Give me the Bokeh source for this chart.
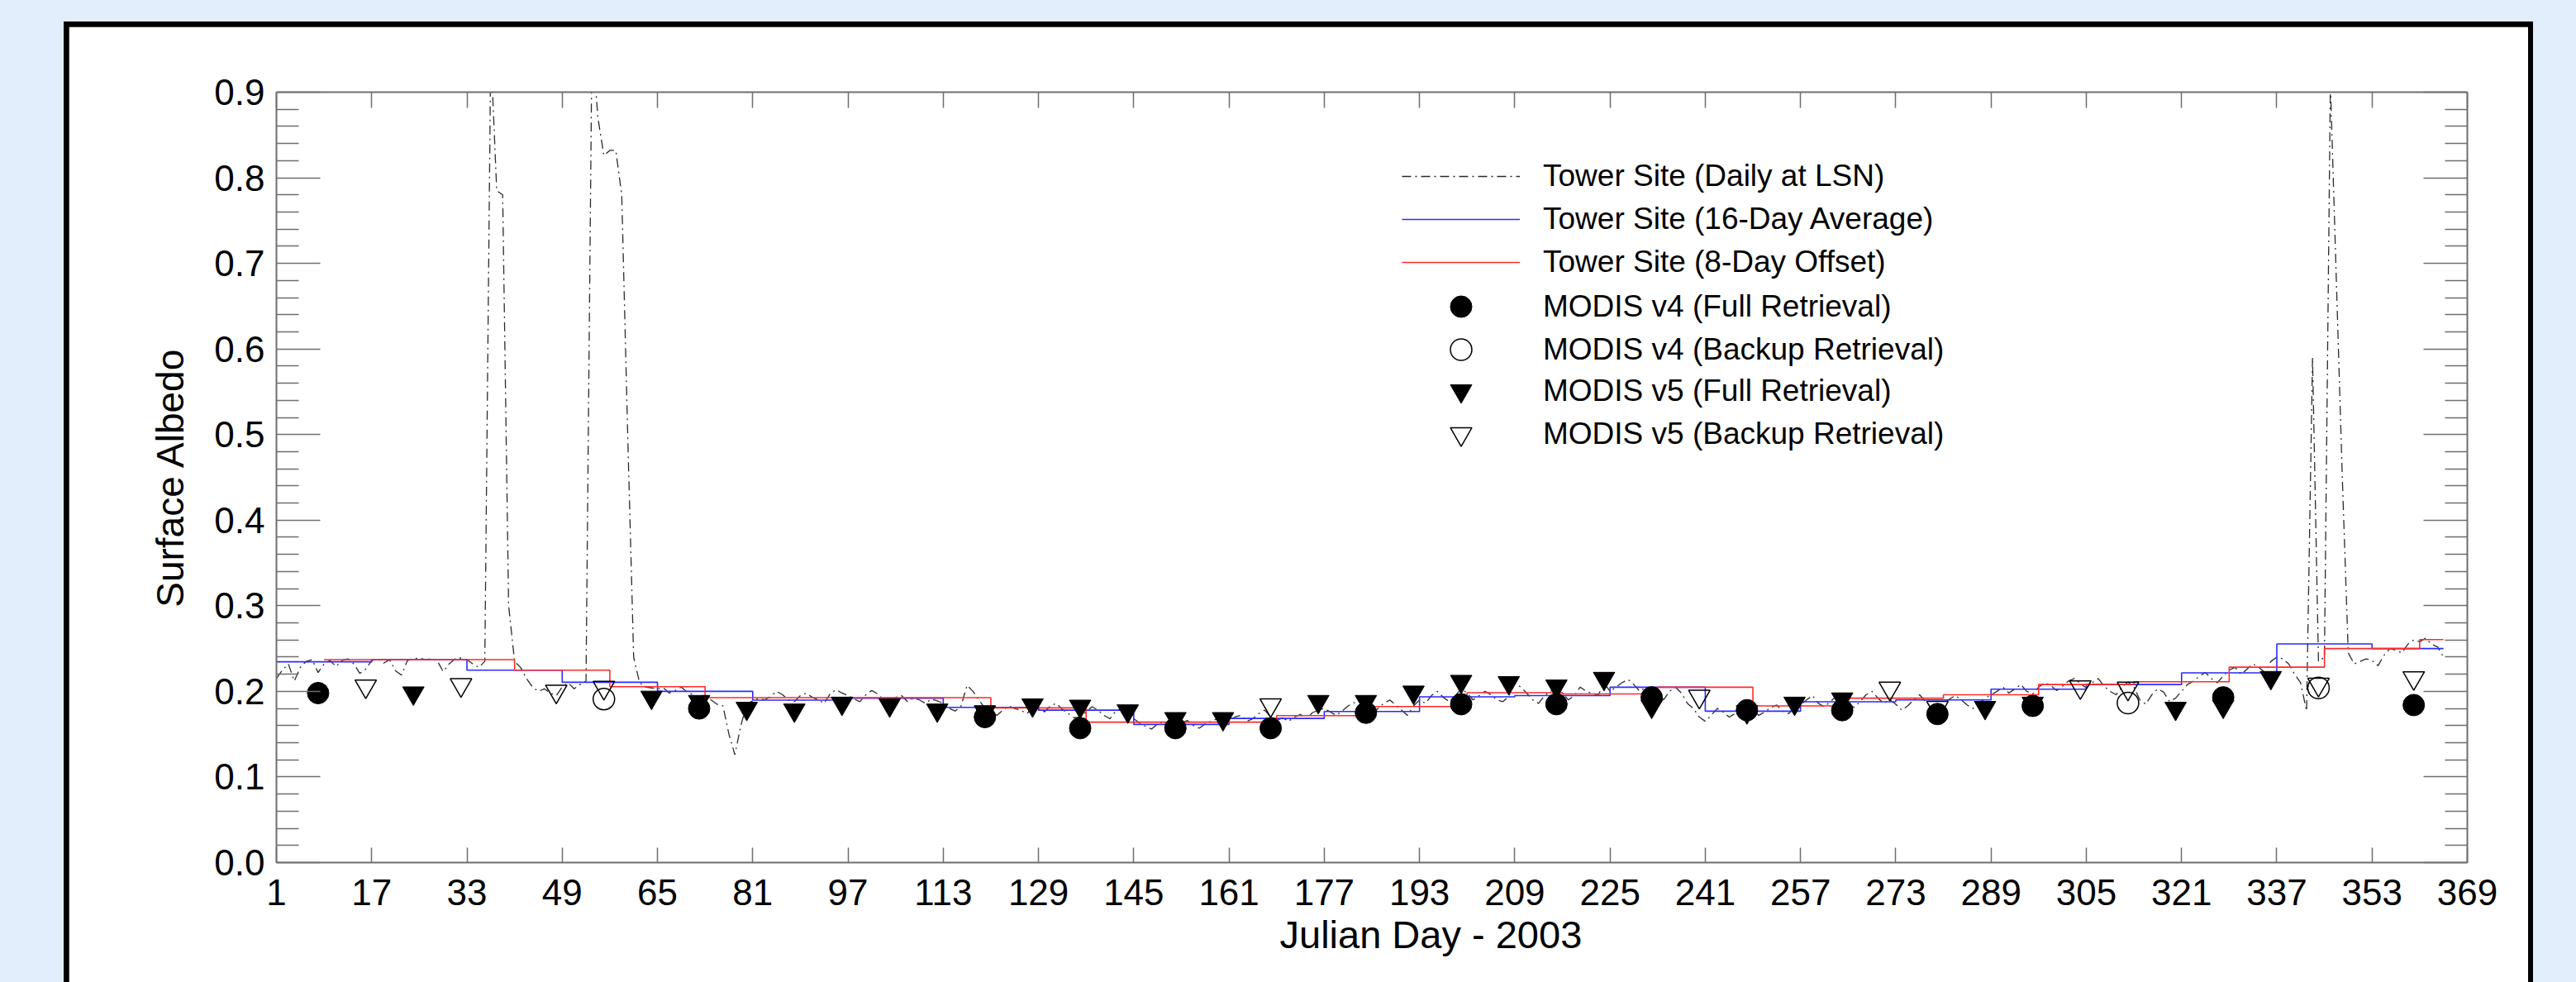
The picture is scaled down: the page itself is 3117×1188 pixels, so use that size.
from bokeh.plotting import figure
from bokeh.layouts import column, row
from bokeh.models import (Range1d, FixedTicker, PrintfTickFormatter, LinearAxis, Legend, LegendItem,
                          CustomJSTickFormatter, Spacer, Title)
from bokeh.embed import file_html
from bokeh.resources import INLINE

# ---------------- data ----------------
DAY_TICKS = [1, 17, 33, 49, 65, 81, 97, 113, 129, 145, 161, 177, 193, 209, 225, 241,
             257, 273, 289, 305, 321, 337, 353, 369]
Y_TICKS = [0.0, 0.1, 0.2, 0.3, 0.4, 0.5, 0.6, 0.7, 0.8, 0.9]

days = list(range(1, 366))
daily_albedo = [
    0.215, 0.225, 0.232, 0.212, 0.228, 0.235, 0.237, 0.222, 0.232, 0.236, 0.229, 0.236, 0.238, 0.232, 0.221, 0.226,
    0.236, 0.238, 0.233, 0.237, 0.224, 0.219, 0.236, 0.238, 0.239, 0.237, 0.238, 0.236, 0.223, 0.232, 0.238, 0.239,
    0.237, 0.232, 0.228, 0.235, 0.95, 0.785, 0.78, 0.30, 0.235, 0.228, 0.215, 0.205, 0.200, 0.203, 0.198, 0.195,
    0.205, 0.210, 0.203, 0.208, 0.212, 0.96, 0.87, 0.826, 0.832, 0.832, 0.78, 0.50, 0.24, 0.21, 0.205, 0.204,
    0.203, 0.204, 0.198, 0.201, 0.205, 0.199, 0.196, 0.192, 0.197, 0.190, 0.185, 0.183, 0.150, 0.126, 0.160, 0.185,
    0.189, 0.192, 0.190, 0.194, 0.200, 0.196, 0.190, 0.188, 0.195, 0.198, 0.193, 0.190, 0.186, 0.197, 0.202, 0.198,
    0.195, 0.191, 0.188, 0.196, 0.201, 0.197, 0.190, 0.187, 0.193, 0.195, 0.188, 0.192, 0.190, 0.186, 0.191, 0.189,
    0.186, 0.180, 0.177, 0.183, 0.207, 0.200, 0.190, 0.180, 0.176, 0.172, 0.178, 0.183, 0.180, 0.178, 0.174, 0.180,
    0.181, 0.176, 0.183, 0.186, 0.179, 0.174, 0.169, 0.170, 0.176, 0.182, 0.178, 0.172, 0.168, 0.177, 0.180, 0.173,
    0.168, 0.163, 0.159, 0.156, 0.162, 0.165, 0.160, 0.158, 0.163, 0.166, 0.160, 0.157, 0.162, 0.165, 0.168, 0.164,
    0.166, 0.170, 0.172, 0.165, 0.168, 0.174, 0.178, 0.170, 0.166, 0.169, 0.165, 0.170, 0.173, 0.168, 0.175, 0.178,
    0.180, 0.176, 0.172, 0.177, 0.183, 0.187, 0.180, 0.175, 0.171, 0.180, 0.186, 0.190, 0.184, 0.178, 0.172, 0.183,
    0.190, 0.186, 0.195, 0.200, 0.193, 0.188, 0.195, 0.203, 0.198, 0.190, 0.195, 0.200, 0.196, 0.190, 0.188, 0.194,
    0.210, 0.205, 0.198, 0.190, 0.186, 0.195, 0.200, 0.204, 0.198, 0.190, 0.195, 0.205, 0.200, 0.198, 0.195, 0.210,
    0.200, 0.205, 0.210, 0.214, 0.208, 0.200, 0.205, 0.203, 0.198, 0.190, 0.200, 0.205, 0.198, 0.186, 0.180, 0.170,
    0.165, 0.172, 0.180, 0.176, 0.170, 0.174, 0.180, 0.185, 0.178, 0.172, 0.176, 0.181, 0.184, 0.177, 0.174, 0.180,
    0.184, 0.190, 0.195, 0.186, 0.182, 0.188, 0.194, 0.190, 0.186, 0.181, 0.188, 0.196, 0.200, 0.192, 0.186, 0.190,
    0.185, 0.178, 0.183, 0.190, 0.196, 0.188, 0.182, 0.177, 0.185, 0.191, 0.195, 0.190, 0.184, 0.180, 0.186, 0.192,
    0.196, 0.200, 0.205, 0.198, 0.203, 0.208, 0.200, 0.197, 0.205, 0.210, 0.207, 0.201, 0.206, 0.212, 0.215, 0.209,
    0.204, 0.210, 0.215, 0.206, 0.200, 0.196, 0.205, 0.211, 0.205, 0.190, 0.185, 0.196, 0.203, 0.199, 0.188, 0.192,
    0.200, 0.208, 0.212, 0.218, 0.222, 0.215, 0.210, 0.218, 0.225, 0.228, 0.220, 0.226, 0.232, 0.228, 0.222, 0.235,
    0.240, 0.238, 0.232, 0.220, 0.210, 0.177, 0.59, 0.235, 0.240, 0.91, 0.68, 0.45, 0.245, 0.232, 0.235, 0.238,
    0.236, 0.230, 0.242, 0.250, 0.248, 0.245, 0.255, 0.260, 0.258, 0.262, 0.255, 0.252, 0.240,
]

avg16_day = [1, 17, 33, 49, 65, 81, 97, 113, 129, 145, 161, 177, 193, 209, 225, 241,
             257, 273, 289, 305, 321, 337, 353, 365]
avg16_val = [0.2345, 0.237, 0.2248, 0.2106, 0.200, 0.1897, 0.192, 0.1813, 0.178, 0.1614, 0.1684, 0.1765,
             0.1936, 0.195, 0.2048, 0.1768, 0.1878, 0.190, 0.2026, 0.208, 0.2216, 0.2554, 0.250, 0.250]

off8_day = [9, 25, 41, 57, 73, 89, 105, 121, 137, 153, 169, 185, 201, 217, 233, 249,
            265, 281, 297, 313, 329, 345, 361, 365]
off8_val = [0.237, 0.237, 0.2248, 0.2055, 0.1926, 0.1926, 0.1926, 0.1807, 0.164, 0.164, 0.1717, 0.1823,
            0.1984, 0.197, 0.2048, 0.183, 0.192, 0.1961, 0.208, 0.2113, 0.2283, 0.250, 0.2605, 0.2605]

v4_full_day = [8, 72, 120, 136, 152, 168, 184, 200, 216, 232, 248, 264, 280, 296, 328, 360]
v4_full_val = [0.198, 0.180, 0.170, 0.157, 0.157, 0.157, 0.175, 0.185, 0.185, 0.193, 0.178, 0.178,
               0.1735, 0.183, 0.193, 0.184]

v4_backup_day = [56, 312, 344]
v4_backup_val = [0.191, 0.1864, 0.204]

v5_full_day = [24, 64, 72, 80, 88, 96, 104, 112, 120, 128, 136, 144, 152, 160, 176, 184, 192, 200,
               208, 216, 224, 232, 248, 256, 264, 288, 296, 320, 328, 336]
v5_full_val = [0.198, 0.193, 0.188, 0.180, 0.178, 0.186, 0.184, 0.178, 0.176, 0.184, 0.1825, 0.177,
               0.168, 0.168, 0.188, 0.188, 0.199, 0.2115, 0.210, 0.206, 0.215, 0.1825, 0.176, 0.186,
               0.191, 0.181, 0.186, 0.180, 0.1825, 0.216]

v5_backup_day = [16, 32, 48, 56, 168, 240, 272, 280, 304, 312, 344, 360]
v5_backup_val = [0.206, 0.2076, 0.200, 0.2044, 0.184, 0.194, 0.2035, 0.181, 0.205, 0.2035, 0.208, 0.2157]

LEGEND_LABELS = ["Tower Site (Daily at LSN)", "Tower Site (16-Day Average)", "Tower Site (8-Day Offset)",
                 "MODIS v4 (Full Retrieval)", "MODIS v4 (Backup Retrieval)",
                 "MODIS v5 (Full Retrieval)", "MODIS v5 (Backup Retrieval)"]

# ---------------- style ----------------
FONT = "Liberation Sans"
BG = "#E2EEFB"
AXIS_GRAY = "#6e6e6e"

fig = figure(width=2976, height=1156, x_range=Range1d(1, 369), y_range=Range1d(0, 0.9),
             output_backend="svg", toolbar_location=None,
             min_border_left=251, min_border_right=74, min_border_top=79, min_border_bottom=145,
             border_fill_color="white", background_fill_color="white", outline_line_color=None)
fig.xgrid.visible = False
fig.ygrid.visible = False

minor_y = [round(i * 0.02, 2) for i in range(46) if i % 5 != 0]
y_ticker = FixedTicker(ticks=Y_TICKS, minor_ticks=minor_y)
x_ticker = FixedTicker(ticks=DAY_TICKS, minor_ticks=[])


def style_axis(ax, tick_in, minor_in):
    ax.axis_line_color = AXIS_GRAY
    ax.axis_line_width = 2
    ax.major_tick_line_color = AXIS_GRAY
    ax.major_tick_line_width = 1.5
    ax.minor_tick_line_color = AXIS_GRAY
    ax.minor_tick_line_width = 1.5
    ax.major_tick_in = tick_in
    ax.major_tick_out = 0
    ax.minor_tick_in = minor_in
    ax.minor_tick_out = 0
    ax.major_label_text_font = FONT
    ax.major_label_text_font_size = "44px"
    ax.major_label_text_color = "black"


xa = fig.xaxis[0]
xa.ticker = x_ticker
style_axis(xa, 18, 0)
xa.major_label_standoff = 20

ya = fig.yaxis[0]
ya.ticker = y_ticker
ya.formatter = PrintfTickFormatter(format="%.1f")
style_axis(ya, 53, 27)
ya.major_label_standoff = 14
ya.axis_label = "Surface Albedo"
ya.axis_label_text_font = FONT
ya.axis_label_text_font_size = "46px"
ya.axis_label_text_font_style = "normal"
ya.axis_label_text_color = "black"
ya.axis_label_standoff = 24

right_ax = LinearAxis(ticker=y_ticker, formatter=CustomJSTickFormatter(code="return ''"))
style_axis(right_ax, 53, 27)
fig.add_layout(right_ax, "right")
top_ax = LinearAxis(ticker=x_ticker, formatter=CustomJSTickFormatter(code="return ''"))
style_axis(top_ax, 19, 0)
fig.add_layout(top_ax, "above")

# x title (sits a little right of the axis centre in the original)
fig.add_layout(Title(text="Julian Day - 2003", align="left", offset=1214, text_font=FONT,
                     text_font_size="47px", text_font_style="normal", text_color="black",
                     standoff=8), "below")

# ---------------- glyphs ----------------
r_daily = fig.line(days, daily_albedo, line_color="#2a2a2a", line_width=1.3, line_dash="11 5 2 5")
r_avg = fig.step(avg16_day, avg16_val, mode="after", line_color="#2b2bff", line_width=1.6)
r_off = fig.step(off8_day, off8_val, mode="after", line_color="#ff2b2b", line_width=1.6)

r_v4f = fig.scatter(v4_full_day, v4_full_val, marker="circle", size=26, fill_color="black", line_color="black")
r_v4b = fig.scatter(v4_backup_day, v4_backup_val, marker="circle", size=26, fill_color=None,
                    line_color="black", line_width=1.5)
r_v5f = fig.scatter(v5_full_day, v5_full_val, marker="inverted_triangle", size=26, fill_color="black",
                    line_color="black")
r_v5b = fig.scatter(v5_backup_day, v5_backup_val, marker="inverted_triangle", size=26, fill_color=None,
                    line_color="black", line_width=1.5)

# one legend per row so that line rows and marker rows can have their own glyph boxes
renderers = [r_daily, r_avg, r_off, r_v4f, r_v4b, r_v5f, r_v5b]
row_centres = [213, 265, 317, 370, 422, 473, 525]      # canvas px of each legend row
box_heights = [52, 52, 52, 65, 65, 65, 65]             # marker rows need a 65 px box for 26 px marks
FRAME_BOTTOM = 1043
for lab, r, yc, h in zip(LEGEND_LABELS, renderers, row_centres, box_heights):
    lg = Legend(items=[LegendItem(label=lab, renderers=[r])],
                location=(1362, int(round(FRAME_BOTTOM - (yc + h / 2)))),
                glyph_width=143, glyph_height=h, label_height=h, spacing=0,
                padding=0, margin=0, label_standoff=28, label_text_font=FONT, label_text_font_size="37px",
                label_text_color="black", border_line_color=None, background_fill_alpha=0)
    fig.add_layout(lg)

# ---------------- page: light-blue surround and black frame ----------------
blue = {"background-color": BG}
black = {"background-color": "black"}
framed = column(Spacer(width=2988, height=6, styles=black),
                row(Spacer(width=6, height=1156, styles=black), fig, Spacer(width=6, height=1156, styles=black),
                    styles=black),
                styles=black)
p = column(Spacer(width=3117, height=26, styles=blue),
           row(Spacer(width=77, height=1162, styles=blue), framed, Spacer(width=52, height=1162, styles=blue),
               styles=blue),
           styles=blue)

open("out.html", "w").write(file_html(p, INLINE))
